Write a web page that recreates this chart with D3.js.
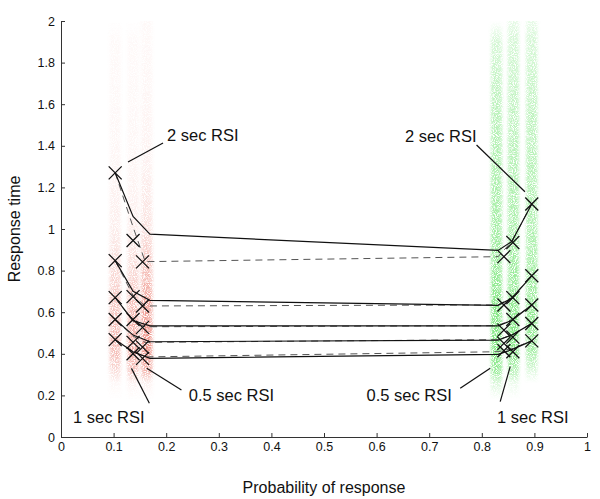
<!DOCTYPE html>
<html>
<head>
<meta charset="utf-8">
<script src="https://cdn.jsdelivr.net/npm/d3@7"></script>
<style>
  html, body { margin: 0; padding: 0; background: #fff; }
  svg { display: block; font-family: "Liberation Sans", Arial, Helvetica, sans-serif; }
</style>
</head>
<body>
<svg id="chart" width="600" height="499"></svg>
<script>
// ---- data ----
const xTicks = [0, 0.1, 0.2, 0.3, 0.4, 0.5, 0.6, 0.7, 0.8, 0.9, 1];
const yTicks = [0, 0.2, 0.4, 0.6, 0.8, 1, 1.2, 1.4, 1.6, 1.8, 2];

// observed quantiles (X markers), 5 quantiles per RSI condition
const markerLeftX = [0.103, 0.137, 0.155];   // 2 s, 1 s, 0.5 s RSI (low prob)
const markerRightX = [0.842, 0.859, 0.895];  // 0.5 s, 1 s, 2 s RSI (high prob)
const left2s = [0.468, 0.565, 0.670, 0.848, 1.27];
const left1s = [0.400, 0.455, 0.565, 0.675, 0.945];
const left05 = [0.378, 0.432, 0.527, 0.630, 0.842];
const right05 = [0.415, 0.450, 0.514, 0.635, 0.867];
const right1s = [0.410, 0.480, 0.565, 0.670, 0.935];
const right2s = [0.462, 0.546, 0.635, 0.775, 1.12];

// model curves, one per quantile (solid and dashed)
const solidX = [0.103, 0.137, 0.169, 0.831, 0.857, 0.895];
const solidQ1 = [0.468, 0.410, 0.378, 0.397, 0.420, 0.462];
const solidQ2 = [0.565, 0.490, 0.458, 0.466, 0.490, 0.546];
const solidQ3 = [0.670, 0.560, 0.534, 0.534, 0.560, 0.635];
const solidQ4 = [0.848, 0.700, 0.657, 0.633, 0.667, 0.775];
const solidQ5 = [1.27, 1.06, 0.975, 0.897, 0.940, 1.12];

const dashX = [0.103, 0.137, 0.160, 0.831, 0.857, 0.895];
const dashQ1 = [0.468, 0.410, 0.385, 0.410, 0.425, 0.462];
const dashQ2 = [0.565, 0.485, 0.455, 0.468, 0.490, 0.546];
const dashQ3 = [0.670, 0.555, 0.530, 0.535, 0.565, 0.635];
const dashQ4 = [0.848, 0.680, 0.630, 0.635, 0.670, 0.775];
const dashQ5 = [1.27, 1.01, 0.843, 0.867, 0.940, 1.12];

// raw response clouds: column centres and density at response-time levels (top to bottom)
const cloudLevels = [2.0, 1.9, 1.6, 1.3, 1.0, 0.8, 0.65, 0.5, 0.4, 0.32, 0.26, 0.18];
const redColumnsX = [0.103, 0.137, 0.163];
const redDensity = [
  [0.0, 0.05, 0.06, 0.08, 0.15, 0.3, 0.45, 0.55, 0.5, 0.3, 0.06, 0.0],
  [0.0, 0.05, 0.06, 0.08, 0.15, 0.3, 0.5, 0.65, 0.65, 0.45, 0.1, 0.0],
  [0.06, 0.06, 0.08, 0.12, 0.25, 0.5, 0.7, 0.85, 0.85, 0.6, 0.12, 0.0],
];
const greenColumnsX = [0.828, 0.860, 0.895];
const greenDensity = [
  [0.0, 0.35, 0.55, 0.65, 0.75, 0.85, 0.95, 1, 1, 0.85, 0.3, 0.0],
  [0.2, 0.35, 0.5, 0.6, 0.7, 0.8, 0.9, 1, 0.95, 0.6, 0.15, 0.0],
  [0.2, 0.35, 0.5, 0.6, 0.65, 0.75, 0.85, 0.9, 0.7, 0.3, 0.0, 0.0],
];

// annotations (data units)
const labelText = ["2 sec RSI", "2 sec RSI", "0.5 sec RSI", "1 sec RSI", "0.5 sec RSI", "1 sec RSI"];
const labelX = [0.2015, 0.654, 0.243, 0.0228, 0.743, 0.829];
const labelY = [1.423, 1.42, 0.171, 0.069, 0.171, 0.069];
const labelAnchor = ["start", "start", "start", "start", "end", "start"];
const leaderX1 = [0.1274, 0.790, 0.163, 0.134, 0.759, 0.835];
const leaderY1 = [1.322, 1.404, 0.330, 0.330, 0.234, 0.170];
const leaderX2 = [0.194, 0.882, 0.229, 0.168, 0.816, 0.854];
const leaderY2 = [1.413, 1.179, 0.226, 0.162, 0.330, 0.338];

// ---- layout ----
const svg = d3.select("#chart");
const x = d3.scaleLinear().domain([0, 1]).range([61, 587]);
const y = d3.scaleLinear().domain([0, 2]).range([437, 21]);
const fmt = d3.format("~g");

const defs = svg.append("defs");
// soft edges plus a speckled texture so the clouds read as many tiny dots
const soft = defs.append("filter")
  .attr("id", "soft")
  .attr("x", "-60%").attr("width", "220%")
  .attr("y", "-5%").attr("height", "110%");
soft.append("feGaussianBlur").attr("in", "SourceGraphic").attr("stdDeviation", "1.6 0.3").attr("result", "blur");
soft.append("feTurbulence").attr("type", "fractalNoise").attr("baseFrequency", 1.1).attr("numOctaves", 1).attr("seed", 7).attr("result", "noise");
soft.append("feColorMatrix").attr("in", "noise").attr("type", "matrix")
  .attr("values", "0 0 0 0 1  0 0 0 0 1  0 0 0 0 1  0 0 0 4 -1.3")
  .attr("result", "speck");
soft.append("feComposite").attr("in", "blur").attr("in2", "speck").attr("operator", "in");

const cloudGroup = svg.append("g");
const drawClouds = (cols, dens, color, prefix, halfW) => {
  cols.forEach((cx, i) => {
    const grad = defs.append("linearGradient")
      .attr("id", `${prefix}${i}`)
      .attr("x1", 0).attr("y1", 0).attr("x2", 0).attr("y2", 1);
    const top = y(cloudLevels[0]);
    const bottom = y(cloudLevels[cloudLevels.length - 1]);
    cloudLevels.forEach((lv, j) => {
      grad.append("stop")
        .attr("offset", (y(lv) - top) / (bottom - top))
        .attr("stop-color", color)
        .attr("stop-opacity", dens[i][j]);
    });
    cloudGroup.append("rect")
      .attr("x", x(cx) - halfW)
      .attr("y", top)
      .attr("width", halfW * 2)
      .attr("height", bottom - top)
      .attr("fill", `url(#${prefix}${i})`)
      .attr("filter", "url(#soft)");
  });
};
drawClouds(redColumnsX, redDensity, "#ec8276", "red", 5.5);
drawClouds(greenColumnsX, greenDensity, "#84e884", "grn", 5.5);

// ---- axes ----
const xAxis = svg.append("g")
  .attr("transform", `translate(0,${y(0)})`)
  .call(d3.axisBottom(x).tickValues(xTicks).tickFormat(fmt).tickSizeInner(-4).tickSizeOuter(0).tickPadding(5));
const yAxis = svg.append("g")
  .attr("transform", `translate(${x(0)},0)`)
  .call(d3.axisLeft(y).tickValues(yTicks).tickFormat(fmt).tickSizeInner(-4).tickSizeOuter(0).tickPadding(6));
[xAxis, yAxis].forEach((g) => {
  g.selectAll("path, line").attr("stroke", "#333");
  g.selectAll("text")
    .attr("fill", "#111")
    .style("font-size", "12.5px")
    .style("font-family", '"Liberation Sans", Arial, sans-serif');
});

svg.append("text")
  .attr("x", x(0.5)).attr("y", 493)
  .attr("text-anchor", "middle")
  .style("font-size", "16px")
  .attr("fill", "#111")
  .text("Probability of response");
svg.append("text")
  .attr("transform", `translate(20,${y(1)}) rotate(-90)`)
  .attr("text-anchor", "middle")
  .style("font-size", "16px")
  .attr("fill", "#111")
  .text("Response time");

// ---- model curves ----
const line = d3.line().x((d) => x(d[0])).y((d) => y(d[1]));
const solidCurves = [solidQ1, solidQ2, solidQ3, solidQ4, solidQ5];
const dashCurves = [dashQ1, dashQ2, dashQ3, dashQ4, dashQ5];

svg.append("g").selectAll("path")
  .data(dashCurves)
  .join("path")
  .attr("d", (ys) => line(ys.map((v, i) => [dashX[i], v])))
  .attr("fill", "none")
  .attr("stroke", "#555")
  .attr("stroke-width", 1)
  .attr("stroke-dasharray", "7,5");

svg.append("g").selectAll("path")
  .data(solidCurves)
  .join("path")
  .attr("d", (ys) => line(ys.map((v, i) => [solidX[i], v])))
  .attr("fill", "none")
  .attr("stroke", "#111")
  .attr("stroke-width", 1.2);

// ---- observed quantile markers ----
const markers = [];
[left2s, left1s, left05].forEach((col, i) => col.forEach((v) => markers.push([markerLeftX[i], v])));
[right05, right1s, right2s].forEach((col, i) => col.forEach((v) => markers.push([markerRightX[i], v])));
const m = 6.5;
svg.append("g").selectAll("path")
  .data(markers)
  .join("path")
  .attr("d", (d) => {
    const px = x(d[0]), py = y(d[1]);
    return `M${px - m},${py - m}L${px + m},${py + m}M${px - m},${py + m}L${px + m},${py - m}`;
  })
  .attr("stroke", "#111")
  .attr("stroke-width", 1.3)
  .attr("fill", "none");

// ---- annotations ----
const ann = svg.append("g");
labelText.forEach((t, i) => {
  ann.append("line")
    .attr("x1", x(leaderX1[i])).attr("y1", y(leaderY1[i]))
    .attr("x2", x(leaderX2[i])).attr("y2", y(leaderY2[i]))
    .attr("stroke", "#111").attr("stroke-width", 1.2);
  ann.append("text")
    .attr("x", x(labelX[i])).attr("y", y(labelY[i]))
    .attr("text-anchor", labelAnchor[i])
    .style("font-size", "16.5px")
    .attr("fill", "#111")
    .text(t);
});
</script>
</body>
</html>
